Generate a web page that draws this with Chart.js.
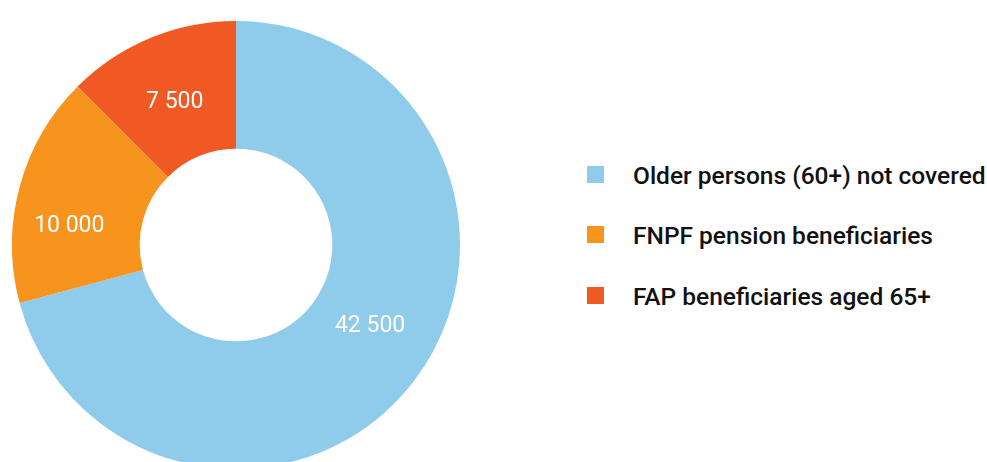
<!DOCTYPE html>
<html>
<head>
<meta charset="utf-8">
<script src="https://cdn.jsdelivr.net/npm/chart.js@4"></script>
<style>
  html, body { margin: 0; padding: 0; background: #fff; overflow: hidden; }
  body { width: 987px; height: 462px; position: relative; font-family: Roboto, sans-serif; }
  #wrap { position: absolute; left: 11.5px; top: 20.5px; width: 448px; height: 448px; }
  #legend { position: absolute; left: 587px; top: 160.5px; margin: 0; padding: 0; list-style: none; }
  #legend li { height: 60.5px; display: flex; align-items: flex-start; font-size: 24.5px; font-weight: 500; color: #111; white-space: nowrap; }
  #legend .box { width: 17px; height: 17px; margin: 5px 29px 0 0; flex: none; }
</style>
</head>
<body>
<div id="wrap"><canvas id="myChart"></canvas></div>
<ul id="legend"></ul>
<script>
// chart data
const labels = [
  'Older persons (60+) not covered',
  'FNPF pension beneficiaries',
  'FAP beneficiaries aged 65+',
];
const values = [42500, 10000, 7500];
const valueLabels = ['42 500', '10 000', '7 500'];
const colors = ['#8fcbea', '#f7941e', '#f05824'];

// writes the value on each slice, nudged a bit like the original
const sliceLabels = {
  id: 'sliceLabels',
  afterDatasetsDraw(chart, args, opts) {
    const ctx = chart.ctx;
    const meta = chart.getDatasetMeta(0);
    ctx.save();
    ctx.fillStyle = '#fff';
    ctx.font = '400 23px Roboto, sans-serif';
    ctx.textAlign = 'center';
    ctx.textBaseline = 'middle';
    meta.data.forEach((arc, i) => {
      const p = arc.tooltipPosition();
      const n = opts.nudge[i] || [0, 0];
      ctx.fillText(valueLabels[i], p.x + n[0], p.y + n[1]);
    });
    ctx.restore();
  }
};

const myChart = new Chart(document.getElementById('myChart'), {
  type: 'doughnut',
  data: {
    labels: labels,
    datasets: [{
      data: values,
      backgroundColor: colors,
      borderWidth: 0,
    }]
  },
  options: {
    responsive: true,
    maintainAspectRatio: false,
    animation: false,
    cutout: '43%',
    layout: { padding: 0 },
    plugins: {
      legend: { display: false },
      tooltip: { enabled: false },
      sliceLabels: { nudge: [[7, -16], [-12, 23], [0, 5]] }
    }
  },
  plugins: [sliceLabels]
});

// html legend built from the same arrays
const legend = document.getElementById('legend');
labels.forEach((l, i) => {
  const li = document.createElement('li');
  li.innerHTML = '<span class="box" style="background:' + colors[i] + '"></span>' + l;
  legend.appendChild(li);
});
</script>
</body>
</html>
